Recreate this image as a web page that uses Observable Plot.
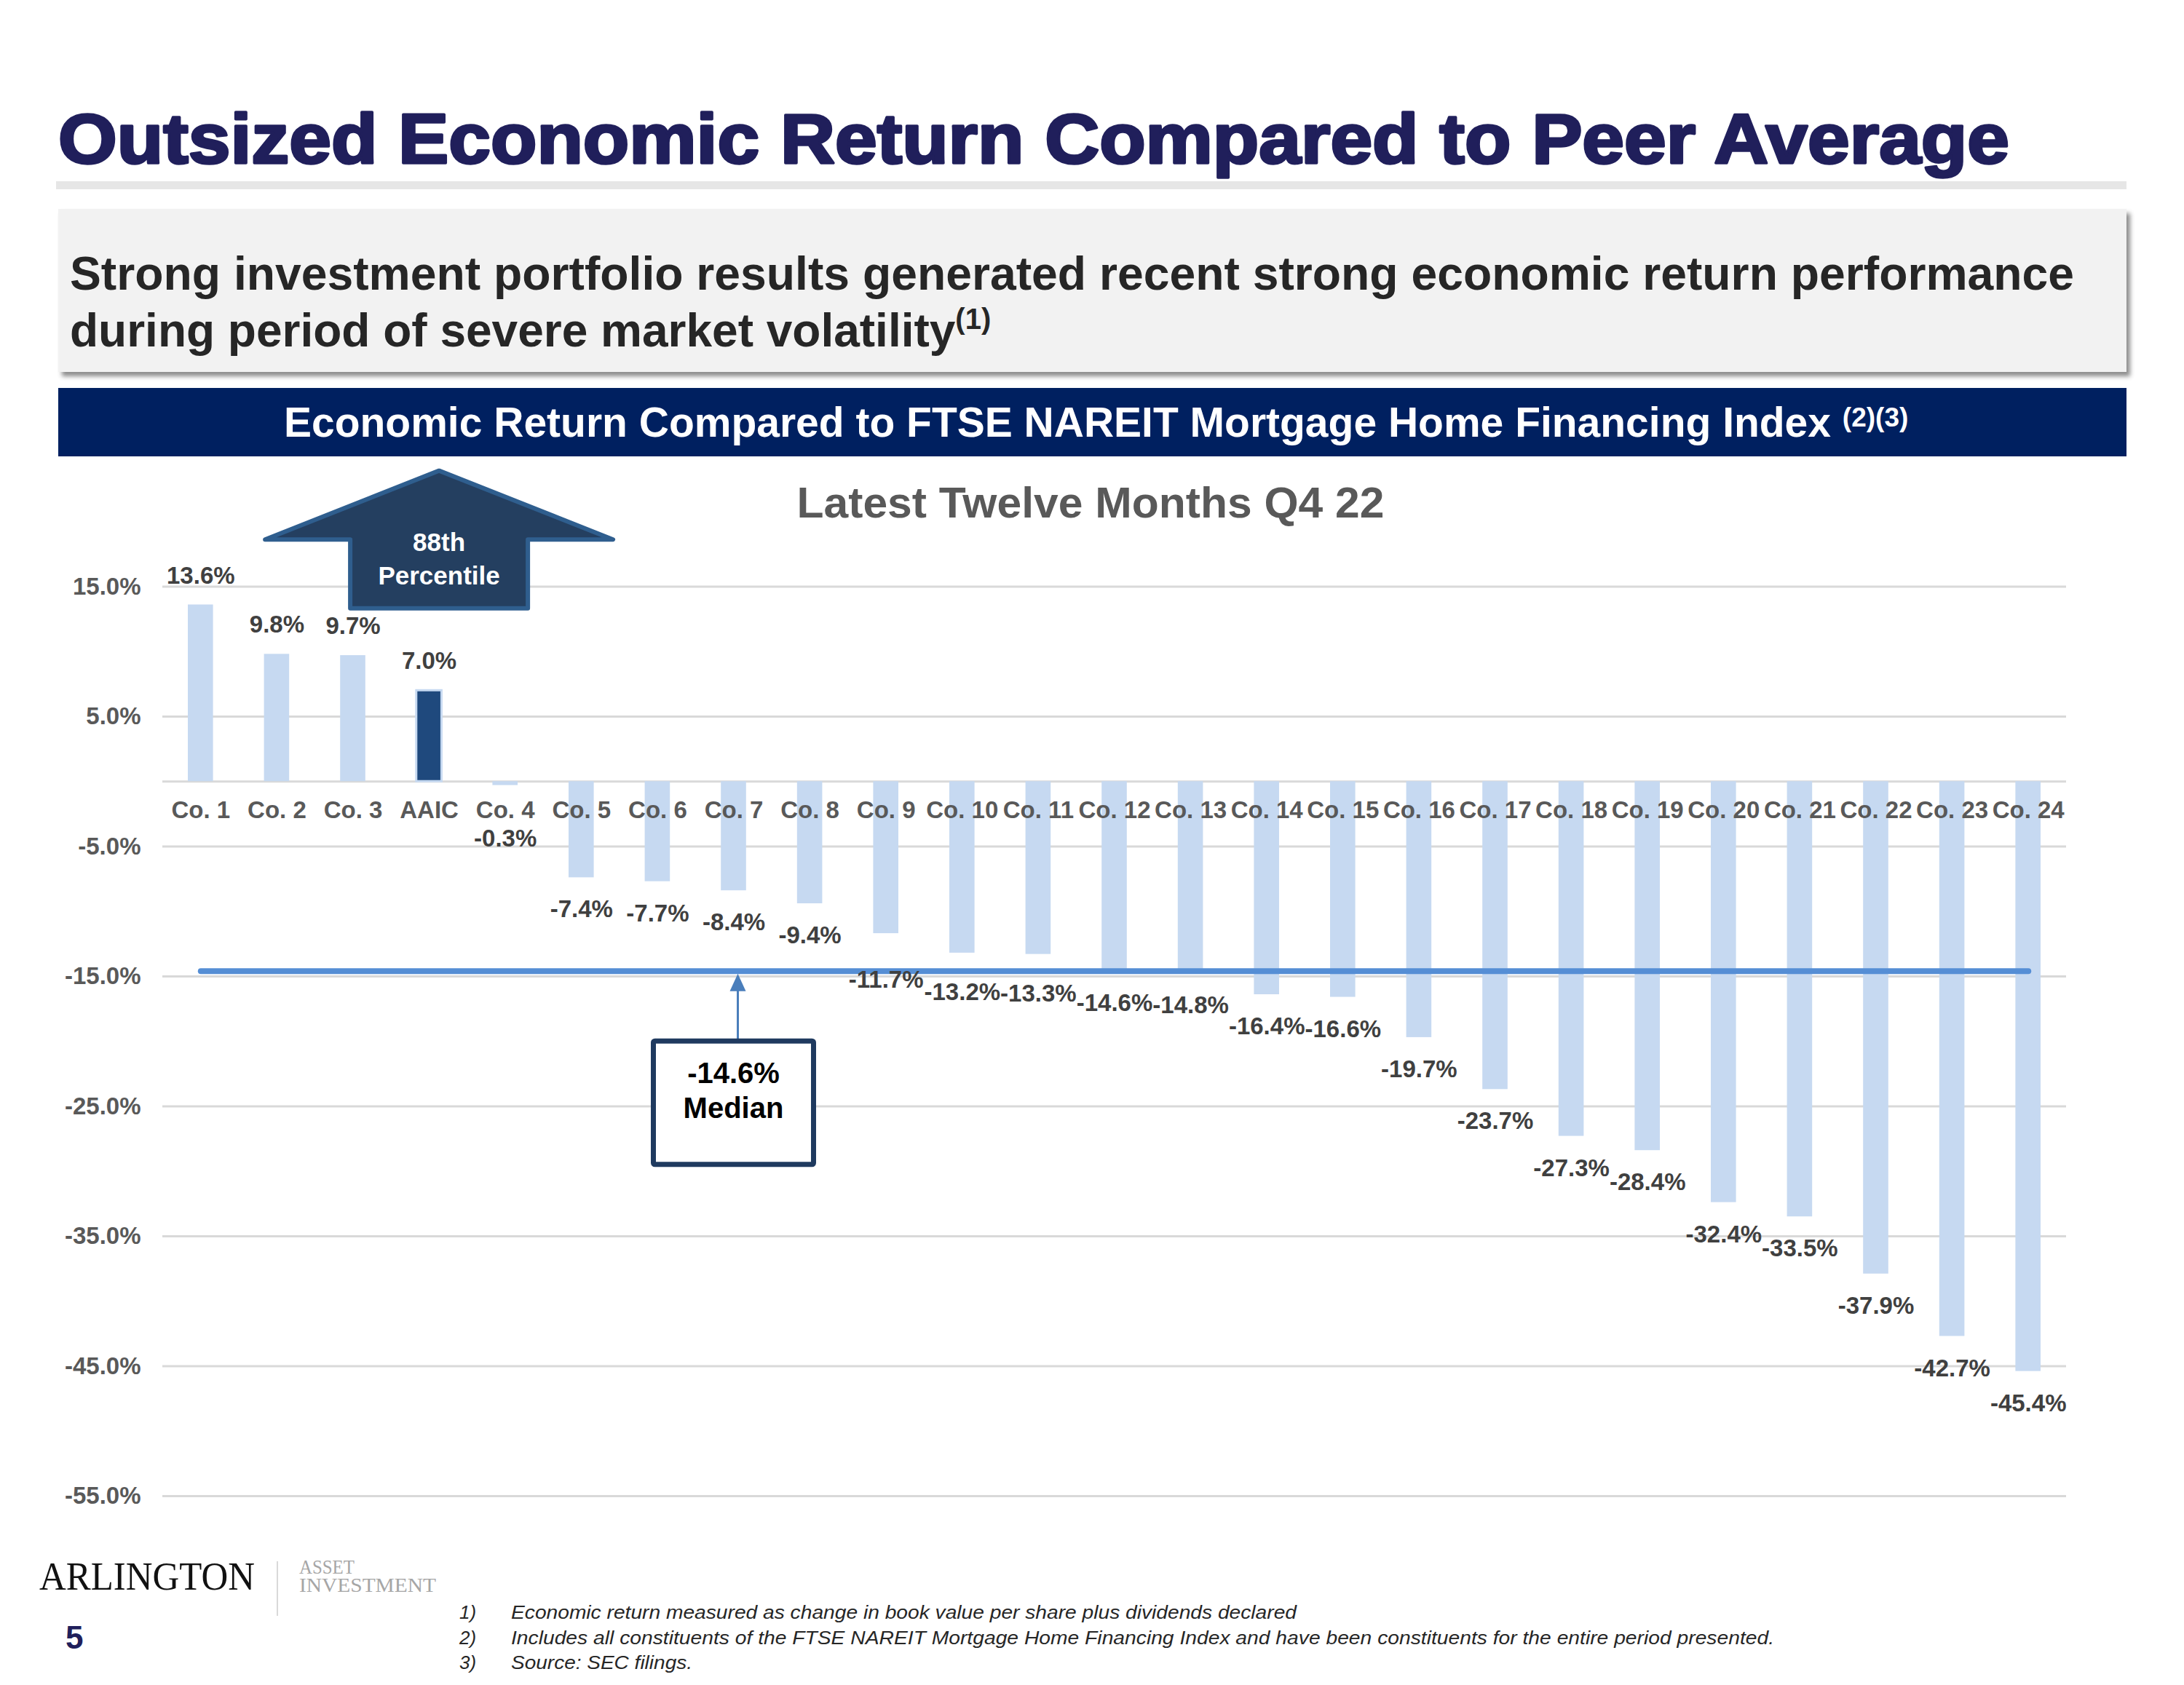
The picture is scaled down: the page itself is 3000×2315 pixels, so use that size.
<!DOCTYPE html>
<html><head><meta charset="utf-8">
<script src="https://cdn.jsdelivr.net/npm/d3@7"></script>
<script src="https://cdn.jsdelivr.net/npm/@observablehq/plot@0.6"></script>
<style>
html,body{margin:0;padding:0;background:#fff;}
#page{position:relative;width:3000px;height:2315px;overflow:hidden;font-family:"Liberation Sans",Arial,sans-serif;}
.abs{position:absolute;}
</style></head><body>
<div id="page">
  <div class="abs" style="left:77px;top:249px;width:2844px;height:11px;background:#E6E6E6"></div>
  <div class="abs" style="left:80px;top:287px;width:2841px;height:224px;background:#F2F2F2;box-shadow:5px 6px 6px rgba(0,0,0,0.45)"></div>
  <div class="abs" style="left:80px;top:533px;width:2841px;height:94px;background:#002060"></div>
  <div id="chart" class="abs" style="left:0;top:600px"></div>
  <svg id="overlay" class="abs" style="left:0;top:0;pointer-events:none" width="3000" height="2315" font-family="'Liberation Sans',Arial,sans-serif">
    <text x="80" y="224" font-size="97" font-weight="bold" fill="#201F5B" stroke="#201F5B" stroke-width="3.5" stroke-linejoin="round" textLength="2680" lengthAdjust="spacingAndGlyphs">Outsized Economic Return Compared to Peer Average</text>
    <text x="96" y="398" font-size="64" font-weight="bold" fill="#262626" textLength="2753" lengthAdjust="spacingAndGlyphs">Strong investment portfolio results generated recent strong economic return performance</text>
    <text x="96" y="476" font-size="64" font-weight="bold" fill="#262626">during period of severe market volatility<tspan font-size="40" dy="-24">(1)</tspan></text>
    <text x="390" y="600" font-size="57" font-weight="bold" fill="#FFFFFF">Economic Return Compared to FTSE NAREIT Mortgage Home Financing Index <tspan font-size="37" dy="-14">(2)(3)</tspan></text>
    <text x="1498" y="711" text-anchor="middle" font-size="60" font-weight="bold" fill="#595959" textLength="807" lengthAdjust="spacingAndGlyphs">Latest Twelve Months Q4 22</text>
    <text x="54" y="2184" font-family="'Liberation Serif','DejaVu Serif',serif" font-size="54" fill="#111111" textLength="296" lengthAdjust="spacingAndGlyphs">ARLINGTON</text>
    <line x1="381" x2="381" y1="2145" y2="2220" stroke="#D9D9D9" stroke-width="2"/>
    <text x="411" y="2162" font-family="'Liberation Serif','DejaVu Serif',serif" font-size="28" fill="#A6A6A6" textLength="76" lengthAdjust="spacingAndGlyphs">ASSET</text>
    <text x="411" y="2187" font-family="'Liberation Serif','DejaVu Serif',serif" font-size="28" fill="#A6A6A6" textLength="188" lengthAdjust="spacingAndGlyphs">INVESTMENT</text>
    <text x="90" y="2265" font-size="44" font-weight="bold" fill="#201F5B">5</text>
    <g font-size="26" font-style="italic" fill="#262626">
      <text x="631" y="2224">1)</text>
      <text x="631" y="2259">2)</text>
      <text x="631" y="2293">3)</text>
      <text x="702" y="2224" textLength="1079" lengthAdjust="spacingAndGlyphs">Economic return measured as change in book value per share plus dividends declared</text>
      <text x="702" y="2259" textLength="1735" lengthAdjust="spacingAndGlyphs">Includes all constituents of the FTSE NAREIT Mortgage Home Financing Index and have been constituents for the entire period presented.</text>
      <text x="702" y="2293" textLength="249" lengthAdjust="spacingAndGlyphs">Source: SEC filings.</text>
    </g>
  </svg>
</div>
<script>
// ---- data ----
const companies = ["Co. 1","Co. 2","Co. 3","AAIC","Co. 4","Co. 5","Co. 6","Co. 7","Co. 8","Co. 9","Co. 10","Co. 11","Co. 12","Co. 13","Co. 14","Co. 15","Co. 16","Co. 17","Co. 18","Co. 19","Co. 20","Co. 21","Co. 22","Co. 23","Co. 24"];
const returns = [13.6, 9.8, 9.7, 7.0, -0.3, -7.4, -7.7, -8.4, -9.4, -11.7, -13.2, -13.3, -14.6, -14.8, -16.4, -16.6, -19.7, -23.7, -27.3, -28.4, -32.4, -33.5, -37.9, -42.7, -45.4];
const yTicks = [15, 5, -5, -15, -25, -35, -45, -55];
const gridValues = [15, 5, 0, -5, -15, -25, -35, -45, -55];
const highlight = "AAIC";
const percentileText = ["88th", "Percentile"];
const medianLabel = "Median";
const medianAnchor = "Co. 7";

// ---- layout ----
const W = 3000, H = 1500, mt = 27, mb = 45, ml = 223, mr = 162;
const yMin = -55, yMax = 25;
const k = (H - mt - mb) / (yMax - yMin);
const fmt = v => v.toFixed(1) + "%";
const data = companies.map((name, i) => ({name, value: returns[i]}));
const median = d3.median(returns);

function labelY(v) {
  if (v >= 0) return v + 40 / k;
  if (v > -3) return -79 / k;
  const def = -v * k + 44;
  const med = -median * k;
  if (Math.abs(def - med) < 25) return -Math.max(def + 10, med + 12) / k;
  return v - 44 / k;
}

const font = "'Liberation Sans',Arial,sans-serif";
const plot = Plot.plot({
  width: W, height: H, marginTop: mt, marginBottom: mb, marginLeft: ml, marginRight: mr,
  style: {fontFamily: font, background: "transparent", overflow: "visible"},
  x: {domain: companies, padding: 0, round: false, axis: null},
  y: {domain: [yMin, yMax], axis: null},
  marks: [
    Plot.ruleY(gridValues, {stroke: "#D9D9D9", strokeWidth: 3}),
    Plot.axisY(yTicks, {anchor: "left", label: null, tickSize: 0, tickPadding: 30, tickFormat: fmt, fontSize: 33, fontWeight: "bold", fill: "#595959"}),
    Plot.barY(data.filter(d => d.name !== highlight), {x: "name", y: "value", fill: "#C6D9F1", insetLeft: 35, insetRight: 35}),
    Plot.barY(data.filter(d => d.name === highlight), {x: "name", y: "value", fill: "#1F497D", stroke: "#C6D9F1", strokeWidth: 3, insetLeft: 35, insetRight: 35}),
    Plot.line([{name: companies[0], value: median}, {name: companies[companies.length - 1], value: median}],
      {x: "name", y: "value", stroke: "#558ED5", strokeWidth: 8, strokeLinecap: "round"}),
    Plot.text(data, {x: "name", y: 0, dy: 40, text: "name", fontSize: 33, fontWeight: "bold", fill: "#595959"}),
    Plot.text(data, {x: "name", y: d => labelY(d.value), text: d => fmt(d.value), fontSize: 33, fontWeight: "bold", fill: "#404040"})
  ]
});
document.getElementById("chart").appendChild(plot);

// ---- annotations positioned with the plot's scales ----
const xs = plot.scale("x"), ys = plot.scale("y");
const bw = xs.bandwidth || 0;
const cx = name => xs.apply(name) + bw / 2;
const Y = v => ys.apply(v);
const svg = d3.select(plot);
const g = svg.append("g");

// 88th percentile arrow
const ax = cx(highlight) + 14;
const tip = Y(23.9), wing = Y(18.6), base = Y(13.3);
const pts = [[ax, tip], [ax + 239, wing], [ax + 122, wing], [ax + 122, base], [ax - 122, base], [ax - 122, wing], [ax - 239, wing]];
g.append("polygon").attr("points", pts.map(p => p.join(",")).join(" "))
  .attr("fill", "#243F60").attr("stroke", "#2F5E8E").attr("stroke-width", 6).attr("stroke-linejoin", "round");
g.append("text").attr("x", ax).attr("y", wing + 16).attr("text-anchor", "middle")
  .attr("font-size", 35).attr("font-weight", "bold").attr("fill", "#fff").text(percentileText[0]);
g.append("text").attr("x", ax).attr("y", wing + 62).attr("text-anchor", "middle")
  .attr("font-size", 35).attr("font-weight", "bold").attr("fill", "#fff").text(percentileText[1]);

// median callout
const mx = cx(medianAnchor);
const boxTop = Y(-20.0), boxBot = Y(-29.5);
const ay = Y(median) + 4;
g.append("line").attr("x1", mx + 6).attr("x2", mx + 6).attr("y1", boxTop).attr("y2", ay + 20)
  .attr("stroke", "#4A7EBB").attr("stroke-width", 3);
g.append("polygon").attr("points", `${mx + 6},${ay} ${mx - 5},${ay + 24} ${mx + 17},${ay + 24}`).attr("fill", "#4A7EBB");
g.append("rect").attr("x", mx - 110).attr("y", boxTop).attr("width", 220).attr("height", boxBot - boxTop)
  .attr("fill", "#fff").attr("stroke", "#1F3A5F").attr("stroke-width", 7).attr("rx", 2);
g.append("text").attr("x", mx).attr("y", boxTop + 58).attr("text-anchor", "middle")
  .attr("font-size", 40).attr("font-weight", "bold").attr("fill", "#000").text(fmt(median));
g.append("text").attr("x", mx).attr("y", boxTop + 106).attr("text-anchor", "middle")
  .attr("font-size", 40).attr("font-weight", "bold").attr("fill", "#000").text(medianLabel);
</script>
</body></html>
